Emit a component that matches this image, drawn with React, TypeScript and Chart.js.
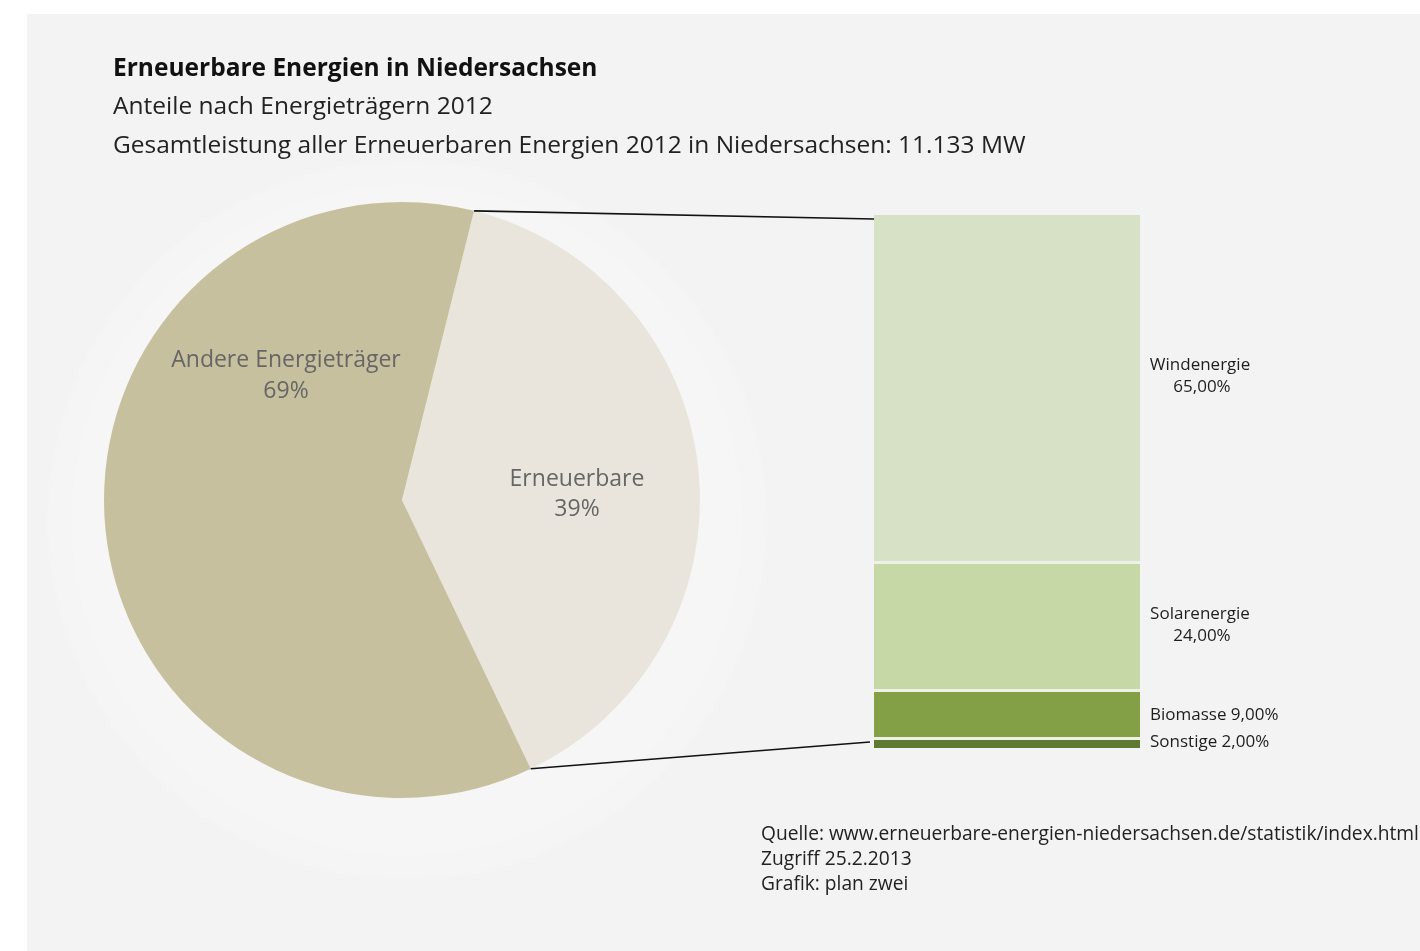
import React, { useEffect, useRef } from "react";
import { Chart, registerables } from "chart.js";

Chart.register(...registerables);

const TITLE = "Erneuerbare Energien in Niedersachsen";
const SUBTITLE_1 = "Anteile nach Energieträgern 2012";
const SUBTITLE_2 = "Gesamtleistung aller Erneuerbaren Energien 2012 in Niedersachsen: 11.133 MW";
const SOURCE_LINES = [
  "Quelle: www.erneuerbare-energien-niedersachsen.de/statistik/index.html",
  "Zugriff 25.2.2013",
  "Grafik: plan zwei",
];

const pieCategories = ["Erneuerbare", "Andere Energieträger"];
const pieValues = [39, 61];
const pieDisplay = ["39%", "69%"];
const pieColors = ["#e9e5dc", "#c7c09f"];

// stacked from bottom to top
const barCategories = ["Sonstige", "Biomasse", "Solarenergie", "Windenergie"];
const barValues = [2, 9, 24, 65];
const barDisplay = ["2,00%", "9,00%", "24,00%", "65,00%"];
const barColors = ["#5d7a33", "#84a047", "#c7d8a7", "#d6e1c5"];

const FONT = "'Open Sans', 'Noto Sans', sans-serif";

export default function App() {
  const pieRef = useRef<HTMLCanvasElement>(null);
  const barRef = useRef<HTMLCanvasElement>(null);

  useEffect(() => {
    const haloPlugin = {
      id: "halo",
      beforeDraw(chart: any) {
        const meta = chart.getDatasetMeta(0);
        const arc = meta.data[0];
        if (!arc) return;
        const ctx = chart.ctx;
        const cx = arc.x + 5;
        const cy = arc.y + 20;
        const r = arc.outerRadius * 1.22;
        ctx.save();
        const g = ctx.createRadialGradient(cx, cy, r * 0.8, cx, cy, r);
        g.addColorStop(0, "rgba(255,255,255,0.3)");
        g.addColorStop(0.9, "rgba(255,255,255,0.2)");
        g.addColorStop(1, "rgba(255,255,255,0)");
        ctx.fillStyle = g;
        ctx.beginPath();
        ctx.arc(cx, cy, r, 0, Math.PI * 2);
        ctx.fill();
        ctx.restore();
      },
    };

    const pie = new Chart(pieRef.current as HTMLCanvasElement, {
      type: "pie",
      data: {
        labels: pieCategories,
        datasets: [
          {
            data: pieValues,
            backgroundColor: pieColors,
            borderWidth: 0,
          },
        ],
      },
      options: {
        animation: false,
        responsive: false,
        rotation: 14,
        layout: { padding: { left: 104, right: 720, top: 202, bottom: 153 } },
        plugins: { legend: { display: false }, tooltip: { enabled: false } },
      },
      plugins: [haloPlugin],
    });

    const linkPlugin = {
      id: "links",
      afterDraw(chart: any) {
        const ctx = chart.ctx;
        const arc: any = pie.getDatasetMeta(0).data[0];
        const metas = barCategories.map((_, i) => chart.getDatasetMeta(i).data[0]);
        const top: any = metas[metas.length - 1];
        const bottom: any = metas[0];
        const left = top.x - top.width / 2;
        const right = top.x + top.width / 2;
        ctx.save();
        ctx.strokeStyle = "#111";
        ctx.lineWidth = 1.6;
        const a1 = arc.startAngle;
        const a2 = arc.endAngle;
        ctx.beginPath();
        ctx.moveTo(arc.x + arc.outerRadius * Math.cos(a1), arc.y + arc.outerRadius * Math.sin(a1));
        ctx.lineTo(left, top.y + 4);
        ctx.stroke();
        ctx.beginPath();
        ctx.moveTo(arc.x + arc.outerRadius * Math.cos(a2), arc.y + arc.outerRadius * Math.sin(a2));
        ctx.lineTo(left - 4, bottom.base - 6);
        ctx.stroke();

        // labels
        ctx.fillStyle = "#1e1e1e";
        ctx.font = `17px ${FONT}`;
        ctx.textBaseline = "middle";
        metas.forEach((el: any, i: number) => {
          const mid = (el.y + el.base) / 2;
          if (barValues[i] >= 20) {
            ctx.textAlign = "center";
            const cxl = right + 60;
            const off = i === metas.length - 1 ? -12 : 0;
            ctx.fillText(barCategories[i], cxl, mid + off - 11);
            ctx.fillText(barDisplay[i], cxl + 2, mid + off + 11);
          } else {
            ctx.textAlign = "left";
            ctx.fillText(`${barCategories[i]} ${barDisplay[i]}`, right + 10, mid + (i === 0 ? -1 : 2));
          }
        });
        ctx.restore();
      },
    };

    const bar = new Chart(barRef.current as HTMLCanvasElement, {
      type: "bar",
      data: {
        labels: ["Erneuerbare"],
        datasets: barCategories.map((name, i) => ({
          label: name,
          data: [barValues[i]],
          backgroundColor: barColors[i],
          borderColor: "#eef1e7",
          borderWidth: i === barCategories.length - 1 ? 0 : { top: 3, left: 0, right: 0, bottom: 0 },
          borderSkipped: false,
          barPercentage: 1,
          categoryPercentage: 1,
        })),
      },
      options: {
        animation: false,
        responsive: false,
        layout: { padding: { left: 874, right: 280, top: 215, bottom: 203 } },
        scales: {
          x: { display: false, stacked: true },
          y: { display: false, stacked: true, min: 0, max: 100 },
        },
        plugins: { legend: { display: false }, tooltip: { enabled: false } },
      },
      plugins: [linkPlugin],
    });

    return () => {
      bar.destroy();
      pie.destroy();
    };
  }, []);

  const abs = (x: number, y: number): React.CSSProperties => ({
    position: "absolute",
    left: x,
    top: y,
    whiteSpace: "nowrap",
    fontFamily: FONT,
    lineHeight: 1,
  });

  return (
    <div style={{ position: "fixed", left: 0, top: 0, width: 1420, height: 951, background: "#ffffff", overflow: "hidden" }}>
      <div style={{ position: "absolute", left: 27, top: 14, width: 1393, height: 937, background: "#f3f3f3" }} />
      <canvas ref={pieRef} width={1420} height={951} style={{ position: "absolute", left: 0, top: 0 }} />
      <canvas ref={barRef} width={1420} height={951} style={{ position: "absolute", left: 0, top: 0 }} />
      <div style={{ ...abs(113, 55), fontSize: 24.5, fontWeight: 700, color: "#111" }}>{TITLE}</div>
      <div style={{ ...abs(113, 93), fontSize: 24.5, color: "#222" }}>{SUBTITLE_1}</div>
      <div style={{ ...abs(113, 132), fontSize: 24.5, color: "#222" }}>{SUBTITLE_2}</div>
      <div style={{ ...abs(86, 343), width: 400, textAlign: "center", fontSize: 23, color: "#666", lineHeight: "31px" }}>
        {pieCategories[1]}
        <br />
        {pieDisplay[1]}
      </div>
      <div style={{ ...abs(477, 462), width: 200, textAlign: "center", fontSize: 23, color: "#666", lineHeight: "30px" }}>
        {pieCategories[0]}
        <br />
        {pieDisplay[0]}
      </div>
      <div style={{ ...abs(761, 820), fontSize: 19.2, color: "#222", lineHeight: "25px" }}>
        {SOURCE_LINES.map((l) => (
          <div key={l}>{l}</div>
        ))}
      </div>
    </div>
  );
}
